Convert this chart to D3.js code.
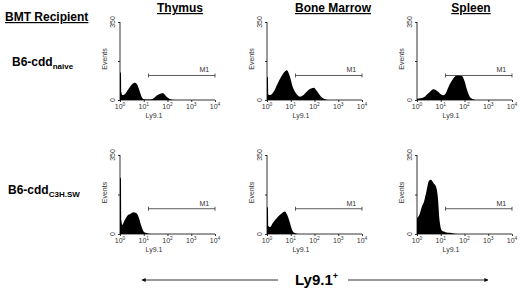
<!DOCTYPE html>
<html lang="en">
<head>
<meta charset="UTF-8">
<title>Ly9.1 histograms</title>
<script src="https://d3js.org/d3.v7.min.js"></script>
<style>
    body { margin: 0; background: #fff; }
    svg { font-family: "Liberation Sans", Arial, sans-serif; }
    .tick-lbl { font-size: 7px; fill: #333; }
</style>
</head>
<body>
<svg width="520" height="291"></svg>
<script>
    // tissue columns and recipient rows
    const tissues = ["Thymus", "Bone Marrow", "Spleen"];
    const recipients = [["B6-cdd", "naive"], ["B6-cdd", "C3H.SW"]];

    // histograms: [log10 Ly9.1 intensity, events]
    const thymusNaive = [[0,125],[0.04,120],[0.06,35],[0.1,22],[0.2,26],[0.35,48],[0.5,70],[0.63,77],[0.74,66],[0.84,35],[0.93,10],[1.0,3],[1.2,2],[1.39,6],[1.55,20],[1.7,28],[1.81,30],[1.95,16],[2.1,4],[2.2,1],[2.4,0]];
    const bmNaive = [[0,104],[0.04,100],[0.06,25],[0.13,22],[0.3,40],[0.42,67],[0.6,105],[0.75,128],[0.84,134],[0.95,110],[1.08,60],[1.18,37],[1.3,20],[1.39,15],[1.55,24],[1.75,45],[1.97,55],[2.1,40],[2.25,18],[2.44,3],[2.6,0]];
    const spleenNaive = [[0,6],[0.2,9],[0.34,16],[0.5,32],[0.7,48],[0.85,40],[1.0,26],[1.12,21],[1.2,28],[1.33,60],[1.5,92],[1.68,110],[1.89,108],[2.0,85],[2.1,48],[2.22,15],[2.35,4],[2.45,0]];
    const thymusC3h = [[0,250],[0.04,245],[0.06,60],[0.1,40],[0.17,55],[0.3,80],[0.45,90],[0.55,96],[0.7,92],[0.8,70],[0.9,35],[1.0,10],[1.15,3],[1.3,0]];
    const bmC3h = [[0,120],[0.04,115],[0.06,35],[0.12,30],[0.25,50],[0.45,75],[0.6,90],[0.75,100],[0.85,85],[0.95,55],[1.05,20],[1.15,5],[1.3,0]];
    const spleenC3h = [[0,70],[0.1,85],[0.2,120],[0.3,145],[0.4,190],[0.5,235],[0.58,240],[0.7,225],[0.8,210],[0.88,160],[0.95,60],[1.05,15],[1.2,8],[1.4,5],[1.6,1],[1.8,0]];
    const histograms = [[thymusNaive, bmNaive, spleenNaive], [thymusC3h, bmC3h, spleenC3h]];

    // M1 gate (log range) and its height in events
    const gateRange = [1.2, 4];
    const gateLevel = [110, 112];
    const decades = [0, 1, 2, 3, 4];
    const yMax = 350;

    const svg = d3.select("svg");

    // layout
    const colX = [120, 267, 417], panelW = 95;
    const rowTop = [22, 155], rowBase = [100, 234];
    const titleX = [180, 333, 471];

    // headings
    svg.append("text").attr("x", 5).attr("y", 21)
        .attr("font-size", 12).attr("font-weight", "bold")
        .attr("text-decoration", "underline").text("BMT Recipient");

    tissues.forEach((t, i) => {
        svg.append("text").attr("x", titleX[i]).attr("y", 12)
            .attr("text-anchor", "middle").attr("font-size", 12).attr("font-weight", "bold")
            .attr("text-decoration", "underline").text(t);
    });

    recipients.forEach((r, j) => {
        const t = svg.append("text").attr("x", j === 0 ? 12 : 8).attr("y", j === 0 ? 66 : 194)
            .attr("font-size", 12).attr("font-weight", "bold");
        t.append("tspan").text(r[0]);
        t.append("tspan").attr("font-size", 8).attr("dy", 3).text(r[1]);
    });

    function sup(sel, base, exp) {
        sel.append("tspan").text(base);
        sel.append("tspan").attr("font-size", "70%").attr("dy", -3).text(exp);
    }

    histograms.forEach((row, j) => {
        row.forEach((data, i) => {
            const x = d3.scaleLinear().domain([0, 4]).range([colX[i], colX[i] + panelW]);
            const y = d3.scaleLinear().domain([0, yMax]).range([rowBase[j], rowTop[j]]);
            const g = svg.append("g");

            const area = d3.area()
                .x(d => x(d[0]))
                .y0(y(0))
                .y1(d => y(d[1]))
                .curve(d3.curveMonotoneX);

            g.append("path").datum(data).attr("d", area).attr("fill", "#000");

            // axes
            g.append("g").attr("transform", `translate(0,${rowBase[j]})`)
                .call(d3.axisBottom(x).tickValues(decades).tickSize(2).tickFormat(""))
                .call(a => a.select(".domain").attr("d", `M${x(0)},0H${x(4)}`));
            g.append("g").attr("transform", `translate(${colX[i]},0)`)
                .call(d3.axisLeft(y).tickValues([0, 175, 350]).tickSize(2).tickFormat(""))
                .call(a => a.select(".domain").attr("d", `M0,${y(yMax)}V${y(0)}`));
            g.selectAll(".domain, .tick line").attr("stroke", "#000").attr("stroke-width", 0.8);

            decades.forEach(d => {
                const t = g.append("text").attr("class", "tick-lbl")
                    .attr("x", x(d)).attr("y", rowBase[j] + 9).attr("text-anchor", "middle");
                sup(t, "10", d);
            });
            g.append("text").attr("class", "tick-lbl").attr("x", colX[i] + 34)
                .attr("y", rowBase[j] + 18).attr("text-anchor", "middle").text("Ly9.1");

            [[0, "0"], [yMax, "350"]].forEach(([v, s]) => {
                g.append("text").attr("class", "tick-lbl").attr("text-anchor", "middle")
                    .attr("transform", `translate(${colX[i] - 5},${y(v)}) rotate(-90)`).text(s);
            });
            g.append("text").attr("class", "tick-lbl").attr("text-anchor", "middle")
                .attr("transform", `translate(${colX[i] - 13},${y(yMax / 2) - 2}) rotate(-90)`).text("Events");

            // M1 gate
            const gy = y(gateLevel[j]);
            g.append("path")
                .attr("d", `M${x(gateRange[0])},${gy - 2}v4M${x(gateRange[0])},${gy}H${x(gateRange[1])}M${x(gateRange[1])},${gy - 2}v4`)
                .attr("stroke", "#333").attr("stroke-width", 0.8).attr("fill", "none");
            g.append("text").attr("class", "tick-lbl").attr("x", x(3.55)).attr("y", gy - 3)
                .attr("text-anchor", "middle").text("M1");
        });
    });

    // bottom double arrow
    const ay = 280;
    svg.append("defs").append("marker").attr("id", "ah").attr("viewBox", "0 0 10 10")
        .attr("refX", 9).attr("refY", 5).attr("markerWidth", 6).attr("markerHeight", 5)
        .attr("orient", "auto-start-reverse")
        .append("path").attr("d", "M0,0L10,5L0,10Z").attr("fill", "#000");
    svg.append("line").attr("x1", 142).attr("x2", 278).attr("y1", ay).attr("y2", ay)
        .attr("stroke", "#000").attr("stroke-width", 0.8).attr("marker-start", "url(#ah)");
    svg.append("line").attr("x1", 348).attr("x2", 488).attr("y1", ay).attr("y2", ay)
        .attr("stroke", "#000").attr("stroke-width", 0.8).attr("marker-end", "url(#ah)");
    const lt = svg.append("text").attr("x", 295).attr("y", ay + 5)
        .attr("font-size", 15).attr("font-weight", "bold");
    lt.append("tspan").text("Ly9.1");
    lt.append("tspan").attr("font-size", 9).attr("dy", -6).text("+");
</script>
</body>
</html>
